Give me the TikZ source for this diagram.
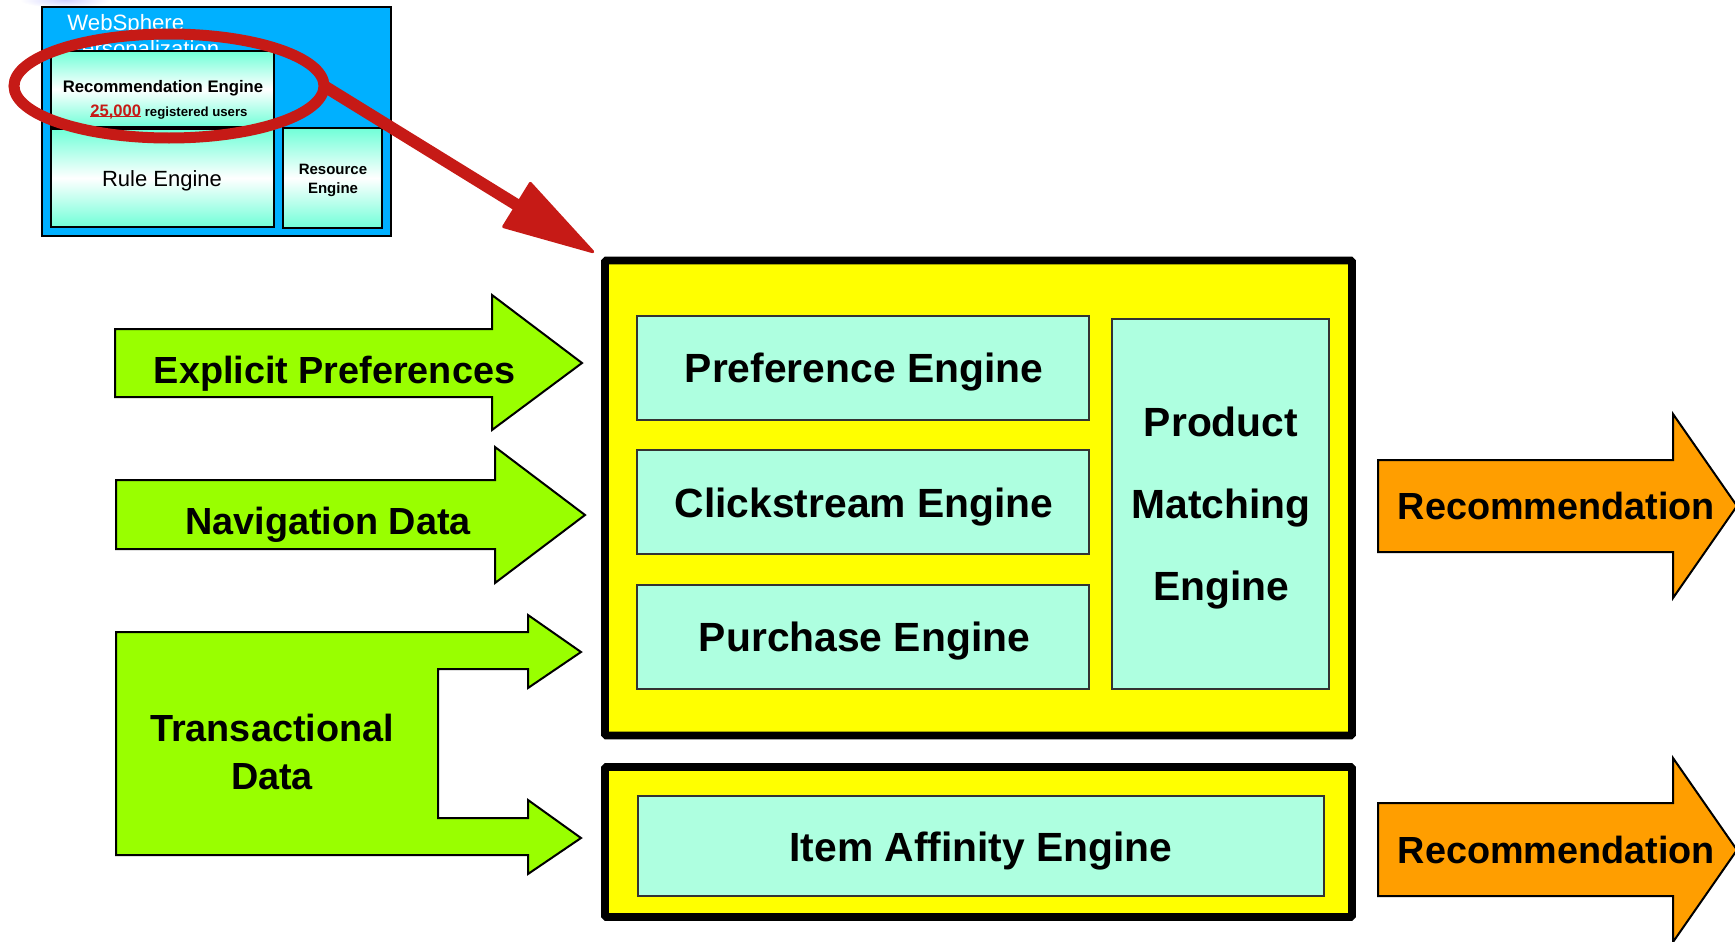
\documentclass[tikz,border=0pt]{standalone}
\usepackage{fontspec}
\setmainfont{Liberation Sans}
\usetikzlibrary{shapes.geometric,arrows.meta,calc}
\definecolor{skyb}{HTML}{00B0FF}
\definecolor{mintd}{HTML}{70FFD8}
\definecolor{mintf}{HTML}{AEFFE0}
\definecolor{limeg}{HTML}{99FF00}
\definecolor{orng}{HTML}{FF9E00}
\definecolor{ringred}{HTML}{C61A16}
\definecolor{purey}{HTML}{FFFF00}
\tikzset{
  wh/.style 2 args={minimum width=#1*0.5pt,minimum height=#2*0.5pt,inner sep=0pt,outer sep=0pt},
  gradbox/.style={draw=black,line width=1.4pt,top color=mintd,bottom color=mintd,middle color=white,shading angle=0},
  enginebox/.style={draw=black!80,line width=0.8pt,fill=mintf},
  yellowbox/.style={draw=black,line width=3.8pt,fill=purey,rounded corners=0.6pt},
  blockg/.style={draw=black,line width=1pt,fill=limeg,line join=miter},
  blocko/.style={draw=black,line width=1pt,fill=orng,line join=miter},
  biglabel/.style={font=\bfseries\fontsize{20.4}{24}\selectfont,inner sep=0pt,anchor=base},
  arrowlabel/.style={font=\bfseries\fontsize{18.9}{24.3}\selectfont,inner sep=0pt},
}
\begin{document}
\begin{tikzpicture}[x=0.5pt,y=-0.5pt]
\useasboundingbox (0,0) rectangle (1735,942);
% faint glow
\shade[inner color=blue!18,outer color=white] (65,0) ellipse (45 and 8);
% WebSphere group
\node[wh={349}{229},draw=black,line width=1.25pt,fill=skyb] (ws) at (216.5,121.5) {};
\node[font=\fontsize{11.1}{13}\selectfont,text=white,anchor=base west,inner sep=0pt] (wt1) at (67,30.5) {WebSphere};
\node[font=\fontsize{11.1}{13}\selectfont,text=white,anchor=base west,inner sep=0pt] (wt2) at (67,56.5) {Personalization};
\node[wh={223}{76},gradbox] (rec) at (162.5,89) {};
\node[wh={223}{98},gradbox] (rule) at (162.5,178) {};
\node[wh={99}{100},gradbox] (res) at (332.5,178) {};
\node[font=\bfseries\fontsize{8.35}{10}\selectfont,anchor=base,inner sep=0pt] (rect) at (163,92) {Recommendation Engine};
\node[font=\bfseries\fontsize{6.6}{8}\selectfont,anchor=base,inner sep=0pt] (rect2) at (169,116) {\textcolor{ringred}{\fontsize{8.3}{10}\selectfont\rlap{\rule[-0.7pt]{25.5pt}{0.7pt}}25,000} registered users};
\node[font=\fontsize{11}{13}\selectfont,anchor=base,inner sep=0pt] (rulet) at (162,186.5) {Rule Engine};
\node[font=\bfseries\fontsize{7.5}{9}\selectfont,anchor=base,inner sep=0pt] (rest1) at (333,174) {Resource};
\node[font=\bfseries\fontsize{7.5}{9}\selectfont,anchor=base,inner sep=0pt] (rest2) at (333,193) {Engine};
% main groups
\node[wh={747}{475},yellowbox] (main) at (978.5,498) {};
\node[wh={747}{150},yellowbox] (lower) at (978.5,842) {};
\node[wh={452}{104},enginebox] (pref) at (863,368) {};
\node[wh={452}{104},enginebox] (click) at (863,502) {};
\node[wh={452}{104},enginebox] (purch) at (863,637) {};
\node[wh={217}{370},enginebox] (prod) at (1220.5,504) {};
\node[wh={686}{100},enginebox] (item) at (981,846) {};
\node[biglabel] (preft) at (864,382) {Preference Engine};
\node[biglabel] (clickt) at (864,517) {Clickstream Engine};
\node[biglabel] (purcht) at (864.5,651) {Purchase Engine};
\node[biglabel] (prodt1) at (1221,436) {Product};
\node[biglabel] (prodt2) at (1221,518) {Matching};
\node[biglabel] (prodt3) at (1221,600) {Engine};
\node[biglabel] (itemt) at (981,861) {Item Affinity Engine};
% input arrows
\draw[blockg] (115,329) -- (492,329) -- (492,295) -- (582,363) -- (492,430) -- (492,397) -- (115,397) -- cycle;
\draw[blockg] (116,480) -- (495,480) -- (495,447) -- (585,515) -- (495,583) -- (495,549) -- (116,549) -- cycle;
\draw[blockg] (116,632) -- (528,632) -- (528,615) -- (581,652) -- (528,688) -- (528,669) -- (438,669) -- (438,818) -- (528,818) -- (528,800) -- (581,838) -- (528,874) -- (528,855) -- (116,855) -- cycle;
\node[arrowlabel,anchor=base] (expl) at (334.5,383.5) {Explicit Preferences};
\node[arrowlabel,anchor=base] (navi) at (328,534.5) {Navigation Data};
\node[arrowlabel,align=center] (trans) at (272,752) {Transactional\\Data};
% output arrows
\draw[blocko] (1378,460) -- (1673,460) -- (1673,414) -- (1737,506) -- (1673,598) -- (1673,552) -- (1378,552) -- cycle;
\draw[blocko] (1378,803) -- (1673,803) -- (1673,758) -- (1737,850) -- (1673,942) -- (1673,896) -- (1378,896) -- cycle;
\node[arrowlabel,anchor=base] (rec1) at (1556.5,519) {Recommendation};
\node[arrowlabel,anchor=base] (rec2) at (1556.5,863) {Recommendation};
% red ring and arrow
\node[ellipse,wh={310}{104},draw=ringred,line width=5.5pt] (ring) at (169,86) {};
\coordinate (redtip) at ($(main.north west)+(-11,-8)$);
\draw[draw=ringred,line width=6pt,-{Triangle[length=48pt,width=27pt,round,line width=1.5pt]}] (ring.east) -- (redtip);
\end{tikzpicture}
\end{document}
